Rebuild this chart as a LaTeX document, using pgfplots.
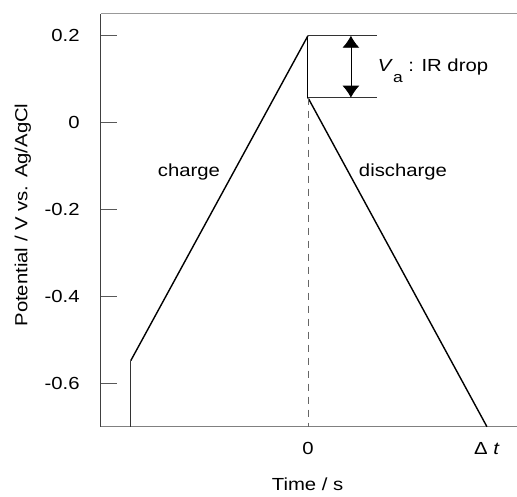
\documentclass[border=0pt]{standalone}
\usepackage{pgfplots}
\pgfplotsset{compat=1.18}
\usepackage{fontspec}
\setmainfont[FakeStretch=1.16]{Liberation Sans}
\usetikzlibrary{arrows.meta,calc}
\begin{document}
\fontsize{17.5}{20}\selectfont
\begin{tikzpicture}
\begin{axis}[
  width=416.3pt, height=412.7pt, scale only axis,
  xmin=-1.158, xmax=1.168, ymin=-0.7, ymax=0.25,
  axis line style={draw=none},
  xtick={0,1}, xticklabels={0,{Δ \textit{t}}},
  xtick style={draw=none},
  ytick={-0.6,-0.4,-0.2,0,0.2},
  ytick pos=left, tick align=inside, major tick length=16pt,
  ytick style={black!65, line width=0.7pt},
  /pgf/number format/assume math mode=true,
  yticklabel style={anchor=east, xshift=-15pt},
  xticklabel style={anchor=north, yshift=-9.6pt},
  xlabel={Time / s},
  ylabel={Potential / V vs. Ag/AgCl},
  xlabel style={at={(axis description cs:0.497,-0.1558)}, anchor=base},
  ylabel style={at={(axis description cs:-0.153,0.513)}, anchor=south},
  clip=false,
]
\coordinate (sw) at (rel axis cs:0,0);
\coordinate (ne) at (rel axis cs:1,1);
% axis frame lines (left, top, bottom)
\draw[black!75, line width=0.9pt] (rel axis cs:0,0) -- (rel axis cs:0,1);
\draw[black!40, line width=1pt] (rel axis cs:0,1) -- (rel axis cs:1,1);
\draw[black!50, line width=1pt] (rel axis cs:0,0) -- (rel axis cs:1,0);
% charge
\addplot[black!80, line width=1pt] coordinates {(-0.99,-0.7) (-0.99,-0.548)};
\addplot[black, line width=1.4pt] coordinates {(-0.99,-0.548) (0,0.2)};
% IR drop
\addplot[black, line width=1pt] coordinates {(0,0.2) (0,0.0574)};
% discharge
\addplot[black, line width=1.4pt] coordinates {(0,0.0574) (1,-0.7)};
% dashed guide
\addplot[black!60, line width=0.8pt, dash pattern=on 7pt off 6pt] coordinates {(0,0.0574) (0,-0.7)};
% horizontal guides
\addplot[black!80, line width=0.8pt] coordinates {(0,0.2) (0.387,0.2)};
\addplot[black!80, line width=0.8pt] coordinates {(0,0.0574) (0.387,0.0574)};
\draw[black, line width=0.8pt, {Latex[width=17pt,length=12pt]}-{Latex[width=17pt,length=12pt]}] (axis cs:0.240,0.2) -- (axis cs:0.240,0.0574);
\node[anchor=base west, inner sep=0pt] at (axis cs:0.39,0.1167) {\textit{V}\raisebox{-11pt}{\fontsize{15}{15}\selectfont a} : IR drop};
\node[anchor=base, inner sep=0pt] at (axis cs:-0.665,-0.124) {charge};
\node[anchor=base, inner sep=0pt] at (axis cs:0.531,-0.124) {discharge};
\end{axis}
\pgfresetboundingbox
\useasboundingbox ($(sw)+(-100.7pt,-70.3pt)$) rectangle ($(ne)+(0,14pt)$);
\end{tikzpicture}
\end{document}
